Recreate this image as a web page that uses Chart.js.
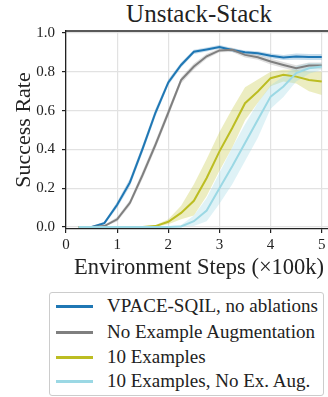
<!DOCTYPE html>
<html>
<head>
<meta charset="utf-8">
<script src="https://cdn.jsdelivr.net/npm/chart.js@4.4.1/dist/chart.umd.min.js"></script>
<style>
  html, body { margin: 0; padding: 0; background: #fff; width: 328px; height: 397px; overflow: hidden; }
  #wrap { position: relative; width: 328px; height: 397px; overflow: hidden; font-family: "Liberation Serif", serif; color: #222; }
  #title { position: absolute; left: 66px; width: 266px; top: -1px; line-height: 30px; font-size: 25px; text-align: center; }
  #box { position: absolute; left: 0; top: 0; width: 332px; height: 290px; }
  #legend { position: absolute; left: 49px; top: 292px; width: 275px; height: 104px; border: 1px solid #cccccc; border-radius: 3px; box-sizing: border-box; }
  .row { position: absolute; left: 0; height: 24px; line-height: 24px; font-size: 19px; white-space: nowrap; }
  .row span.ln { position: absolute; left: 6px; top: 11px; width: 37px; height: 2.5px; }
  .row span.tx { position: absolute; left: 57px; top: 0; }
</style>
</head>
<body>
<div id="wrap">
  <div id="title">Unstack-Stack</div>
  <div id="box"><canvas id="chart" width="332" height="290"></canvas></div>
  <div id="legend"></div>
</div>
<script>
// pasos (x100k)
const steps = [0.25, 0.5, 0.75, 1.0, 1.25, 1.5, 1.75, 2.0, 2.25, 2.5, 2.75, 3.0, 3.25, 3.5, 3.75, 4.0, 4.25, 4.5, 4.75, 5.0];

const seriesNames = ['VPACE-SQIL, no ablations', 'No Example Augmentation', '10 Examples', '10 Examples, No Ex. Aug.'];
const seriesColors = ['#1f77b4', '#7f7f7f', '#bcbd22', '#9bd8e4'];
const bandColors = ['rgba(31,119,180,0.25)', 'rgba(127,127,127,0.25)', 'rgba(188,189,34,0.28)', 'rgba(155,216,228,0.32)'];

const vpace   = [0, 0, 0.02, 0.115, 0.23, 0.405, 0.59, 0.745, 0.835, 0.903, 0.915, 0.928, 0.912, 0.90, 0.895, 0.882, 0.873, 0.878, 0.876, 0.876];
const vpaceLo = [0, 0, 0.012, 0.10, 0.21, 0.385, 0.57, 0.73, 0.822, 0.892, 0.905, 0.918, 0.902, 0.89, 0.884, 0.87, 0.86, 0.862, 0.86, 0.86];
const vpaceHi = [0.003, 0.003, 0.028, 0.13, 0.25, 0.425, 0.61, 0.76, 0.848, 0.914, 0.925, 0.938, 0.922, 0.91, 0.906, 0.894, 0.886, 0.894, 0.892, 0.892];

const noAug   = [0, 0, 0.005, 0.04, 0.125, 0.27, 0.425, 0.59, 0.757, 0.827, 0.88, 0.91, 0.913, 0.887, 0.875, 0.853, 0.835, 0.818, 0.832, 0.832];
const noAugLo = [0, 0, 0.001, 0.028, 0.11, 0.25, 0.405, 0.57, 0.74, 0.812, 0.867, 0.9, 0.902, 0.874, 0.862, 0.838, 0.82, 0.803, 0.815, 0.815];
const noAugHi = [0.003, 0.003, 0.01, 0.052, 0.14, 0.29, 0.445, 0.61, 0.772, 0.842, 0.893, 0.92, 0.924, 0.9, 0.888, 0.868, 0.85, 0.833, 0.848, 0.848];

const ten   = [0, 0, 0, 0, 0, 0, 0.005, 0.027, 0.073, 0.135, 0.253, 0.39, 0.51, 0.638, 0.698, 0.767, 0.784, 0.775, 0.758, 0.75];
const tenLo = [0, 0, 0, 0, 0, 0, 0.001, 0.015, 0.04, 0.06, 0.16, 0.29, 0.41, 0.55, 0.64, 0.725, 0.75, 0.74, 0.70, 0.68];
const tenHi = [0.002, 0.002, 0.002, 0.002, 0.002, 0.003, 0.01, 0.04, 0.11, 0.22, 0.35, 0.49, 0.61, 0.72, 0.76, 0.80, 0.81, 0.81, 0.80, 0.80];

const tenNoAug   = [0, 0, 0, 0, 0, 0, 0, 0, 0.003, 0.03, 0.085, 0.20, 0.313, 0.433, 0.553, 0.672, 0.724, 0.793, 0.818, 0.827];
const tenNoAugLo = [0, 0, 0, 0, 0, 0, 0, 0, 0, 0.005, 0.03, 0.12, 0.22, 0.34, 0.46, 0.61, 0.67, 0.75, 0.79, 0.81];
const tenNoAugHi = [0.002, 0.002, 0.002, 0.002, 0.002, 0.002, 0.002, 0.004, 0.01, 0.06, 0.15, 0.28, 0.41, 0.53, 0.64, 0.73, 0.775, 0.83, 0.845, 0.845];

const xTicks = [0, 1, 2, 3, 4, 5];
const yTicks = [0, 0.2, 0.4, 0.6, 0.8, 1.0];

const means = [vpace, noAug, ten, tenNoAug];
const lows = [vpaceLo, noAugLo, tenLo, tenNoAugLo];
const highs = [vpaceHi, noAugHi, tenHi, tenNoAugHi];

function pts(arr) {
    return arr.map((v, i) => ({ x: steps[i], y: v }));
}

// bandas + lineas
const datasets = [];
means.forEach((m, i) => {
    datasets.push({ data: pts(lows[i]), borderWidth: 0, pointRadius: 0, fill: false, order: 8 - i });
    datasets.push({ data: pts(highs[i]), borderWidth: 0, pointRadius: 0, backgroundColor: bandColors[i], fill: '-1', order: 8 - i });
    datasets.push({ label: seriesNames[i], data: pts(m), borderColor: seriesColors[i], borderWidth: 2, pointRadius: 0, fill: false, order: 4 - i });
});

// borde superior
const topSpine = {
    id: 'topSpine',
    afterDraw(chart) {
        const a = chart.chartArea;
        const ctx = chart.ctx;
        ctx.save();
        ctx.strokeStyle = '#222';
        ctx.lineWidth = 1.3;
        ctx.beginPath();
        ctx.moveTo(a.left, a.top);
        ctx.lineTo(a.right + 2, a.top);
        ctx.stroke();
        ctx.restore();
    }
};

const serif = '"Liberation Serif", serif';

new Chart(document.getElementById('chart'), {
    type: 'line',
    data: { datasets: datasets },
    options: {
        responsive: false,
        animation: false,
        layout: { padding: { top: 31, left: 0, right: 0, bottom: 0 } },
        plugins: { legend: { display: false }, tooltip: { enabled: false } },
        scales: {
            x: {
                type: 'linear',
                min: 0,
                max: 5.2,
                afterFit(s) { s.height = 61; },
                afterBuildTicks(s) { s.ticks = xTicks.map(v => ({ value: v })); },
                ticks: { font: { family: serif, size: 15 }, color: '#222', padding: 3, maxRotation: 0, callback: v => String(v) },
                grid: { color: '#e2e2e2', lineWidth: 1.2, tickColor: '#222', tickLength: 4 },
                border: { color: '#222', width: 1.3 },
                title: { display: true, text: 'Environment Steps (×100k)', font: { family: serif, size: 22.5 }, color: '#222', padding: { top: 0, bottom: 8 } }
            },
            y: {
                min: -0.01,
                max: 1.01,
                afterFit(s) { s.width = 66; },
                afterBuildTicks(s) { s.ticks = yTicks.map(v => ({ value: v })); },
                ticks: { font: { family: serif, size: 15 }, color: '#222', padding: 7, callback: v => v.toFixed(1) },
                grid: { color: '#e2e2e2', lineWidth: 1.2, tickColor: '#222', tickLength: 4 },
                border: { color: '#222', width: 1.3 },
                title: { display: true, text: 'Success Rate', font: { family: serif, size: 22 }, color: '#222', padding: { top: 11, bottom: 0 } }
            }
        }
    },
    plugins: [topSpine]
});

// leyenda
const legend = document.getElementById('legend');
const rowTops = [1, 27, 52, 76];
seriesNames.forEach((name, i) => {
    const row = document.createElement('div');
    row.className = 'row';
    row.style.top = rowTops[i] + 'px';
    const ln = document.createElement('span');
    ln.className = 'ln';
    ln.style.background = seriesColors[i];
    const tx = document.createElement('span');
    tx.className = 'tx';
    tx.textContent = name;
    row.appendChild(ln);
    row.appendChild(tx);
    legend.appendChild(row);
});
</script>
</body>
</html>
